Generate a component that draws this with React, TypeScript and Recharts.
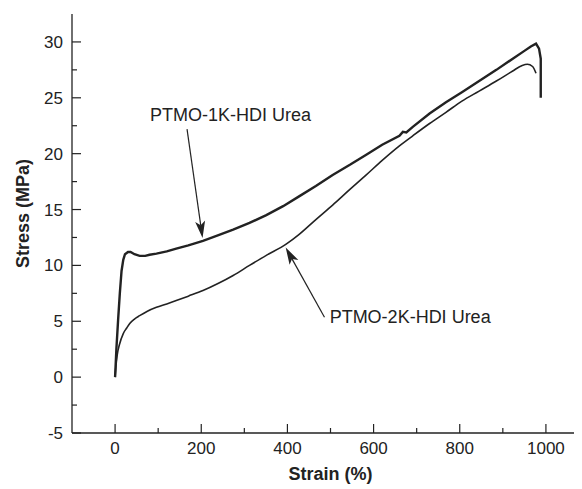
import React from 'react';
import { LineChart, Line, XAxis, YAxis, ReferenceLine, ReferenceDot } from 'recharts';

// PTMO-1K-HDI Urea (upper curve)
const strain1K = [0, 3, 7, 11, 15, 19, 23, 30, 36, 45, 57, 70, 80, 96, 120, 142, 170, 204, 240, 274, 312, 351, 390, 428, 466, 505, 545, 583, 620, 660, 668, 676, 691, 730, 768, 805, 845, 885, 923, 950, 965, 977, 984, 988, 988];
const stress1K = [0, 2.5, 5.1, 7.5, 9.5, 10.5, 11.0, 11.2, 11.2, 11.0, 10.85, 10.85, 10.95, 11.05, 11.25, 11.5, 11.8, 12.2, 12.7, 13.2, 13.8, 14.5, 15.3, 16.2, 17.1, 18.1, 19.0, 19.9, 20.8, 21.6, 21.95, 21.9, 22.4, 23.6, 24.6, 25.5, 26.5, 27.5, 28.5, 29.2, 29.6, 29.85, 29.4, 28.5, 25.0];

// PTMO-2K-HDI Urea (lower curve)
const strain2K = [0, 2, 5, 10, 19, 27, 34, 45, 57, 75, 96, 120, 142, 170, 204, 240, 274, 312, 351, 397, 428, 466, 505, 545, 583, 620, 660, 691, 730, 768, 805, 845, 885, 923, 945, 957, 969, 977];
const stress2K = [0, 1.0, 2.0, 2.9, 3.9, 4.4, 4.8, 5.2, 5.5, 5.9, 6.25, 6.55, 6.85, 7.25, 7.75, 8.4, 9.1, 10.0, 10.9, 11.9, 12.8, 14.1, 15.4, 16.8, 18.1, 19.4, 20.7, 21.6, 22.7, 23.7, 24.7, 25.6, 26.5, 27.4, 27.9, 28.0, 27.8, 27.2];

const xTicks = [0, 100, 200, 300, 400, 500, 600, 700, 800, 900, 1000];
const yTicks = [-5, -2.5, 0, 2.5, 5, 7.5, 10, 12.5, 15, 17.5, 20, 22.5, 25, 27.5, 30];

const noteText = ['PTMO-1K-HDI Urea', 'PTMO-2K-HDI Urea'];
const noteAt = [[81, 23.45], [498, 5.4]];
const arrowFrom = [[167, 22.2], [486, 5.36]];
const arrowTo = [[203, 12.45], [396, 11.6]];

const FONT = '"Liberation Sans", Arial, sans-serif';
const INK = '#222';

const data1K = strain1K.map((x, i) => ({ x, y: stress1K[i] }));
const data2K = strain2K.map((x, i) => ({ x, y: stress2K[i] }));

const LeftTick = (p: any) => {
  const v = p.payload.value;
  const major = v % 5 === 0;
  return (
    <g>
      <line x1={p.x} x2={p.x + (major ? 9 : 5)} y1={p.y} y2={p.y} stroke={INK} strokeWidth={1.2} />
      {major && (
        <text x={p.x - 9} y={p.y} dy={6} textAnchor="end" fontSize={17} fontFamily={FONT} fill={INK}>
          {v}
        </text>
      )}
    </g>
  );
};

const RightTick = (p: any) => {
  const major = p.payload.value % 5 === 0;
  return <line x1={p.x} x2={p.x - (major ? 9 : 5)} y1={p.y} y2={p.y} stroke={INK} strokeWidth={1.2} />;
};

const BottomTick = (p: any) => {
  const v = p.payload.value;
  const major = v % 200 === 0;
  return (
    <g>
      <line x1={p.x} x2={p.x} y1={p.y} y2={p.y - (major ? 9 : 5)} stroke={INK} strokeWidth={1.2} />
      {major && (
        <text x={p.x} y={p.y} dy={21} textAnchor="middle" fontSize={17} fontFamily={FONT} fill={INK}>
          {v}
        </text>
      )}
    </g>
  );
};

const TopTick = (p: any) => {
  const major = p.payload.value % 200 === 0;
  return <line x1={p.x} x2={p.x} y1={p.y} y2={p.y + (major ? 8 : 5)} stroke={INK} strokeWidth={1.2} />;
};

const YTitle = (props: any) => {
  const vb = props.viewBox;
  const x = vb.x + 21;
  const y = vb.y + vb.height / 2 - 10;
  return (
    <text x={x} y={y} transform={`rotate(-90, ${x}, ${y})`} textAnchor="middle" fontSize={18} fontWeight="bold" fontFamily={FONT} fill={INK}>
      Stress (MPa)
    </text>
  );
};

const Arrow = (p: any) => {
  const { x1, y1, x2, y2 } = p;
  const dx = x2 - x1;
  const dy = y2 - y1;
  const len = Math.sqrt(dx * dx + dy * dy);
  const ux = dx / len;
  const uy = dy / len;
  const hl = 17;
  const hw = 5;
  const bx = x2 - ux * hl;
  const by = y2 - uy * hl;
  const nx = x2 - ux * (hl - 4);
  const ny = y2 - uy * (hl - 4);
  const pts = `${x2},${y2} ${bx - uy * hw},${by + ux * hw} ${nx},${ny} ${bx + uy * hw},${by - ux * hw}`;
  return (
    <g>
      <line x1={x1} y1={y1} x2={nx} y2={ny} stroke={INK} strokeWidth={1.2} />
      <polygon points={pts} fill={INK} />
    </g>
  );
};

const NoteLabel = (text: string) => (p: any) => (
  <text x={p.cx} y={p.cy} dy={6} textAnchor="start" fontSize={18} fontFamily={FONT} fill={INK}>
    {text}
  </text>
);

export default function App() {
  return (
    <div style={{ width: 574, height: 481, overflow: 'hidden', background: '#fff' }}>
      <LineChart width={590} height={481} margin={{ top: 6, right: 9, bottom: 0, left: 0 }}>
        <XAxis
          type="number"
          dataKey="x"
          domain={[-100, 1100]}
          ticks={xTicks}
          interval={0}
          height={56}
          tickSize={0}
          tickMargin={0}
          tickLine={false}
          tick={<BottomTick />}
          axisLine={{ stroke: INK, strokeWidth: 1.3 }}
          allowDataOverflow
          label={{ value: 'Strain (%)', position: 'insideBottom', offset: 9, fontSize: 18, fontWeight: 'bold', fontFamily: FONT, fill: INK }}
        />
        <XAxis
          xAxisId="top"
          orientation="top"
          type="number"
          dataKey="x"
          domain={[-100, 1100]}
          ticks={xTicks}
          interval={0}
          height={0}
          tickSize={0}
          tickMargin={0}
          tickLine={false}
          tick={<TopTick />}
          axisLine={{ stroke: INK, strokeWidth: 1.3 }}
          allowDataOverflow
        />
        <YAxis
          type="number"
          domain={[-5, 32.5]}
          ticks={yTicks}
          interval={0}
          width={64}
          tickSize={0}
          tickMargin={0}
          tickLine={false}
          tick={<LeftTick />}
          axisLine={{ stroke: INK, strokeWidth: 1.3 }}
          allowDataOverflow
          label={<YTitle />}
        />
        <YAxis
          yAxisId="right"
          orientation="right"
          type="number"
          domain={[-5, 32.5]}
          ticks={yTicks}
          interval={0}
          width={0}
          tickSize={0}
          tickMargin={0}
          tickLine={false}
          tick={<RightTick />}
          axisLine={{ stroke: INK, strokeWidth: 1.3 }}
          allowDataOverflow
        />
        <Line data={data2K} dataKey="y" type="monotone" stroke={INK} strokeWidth={1.6} dot={false} isAnimationActive={false} />
        <Line data={data1K} dataKey="y" type="linear" stroke={INK} strokeWidth={2.4} dot={false} isAnimationActive={false} />
        {noteText.map((t, i) => (
          <ReferenceLine
            key={'a' + i}
            segment={[
              { x: arrowFrom[i][0], y: arrowFrom[i][1] },
              { x: arrowTo[i][0], y: arrowTo[i][1] },
            ]}
            shape={<Arrow />}
          />
        ))}
        {noteText.map((t, i) => (
          <ReferenceDot key={'t' + i} x={noteAt[i][0]} y={noteAt[i][1]} r={0} shape={NoteLabel(t)} />
        ))}
      </LineChart>
    </div>
  );
}
